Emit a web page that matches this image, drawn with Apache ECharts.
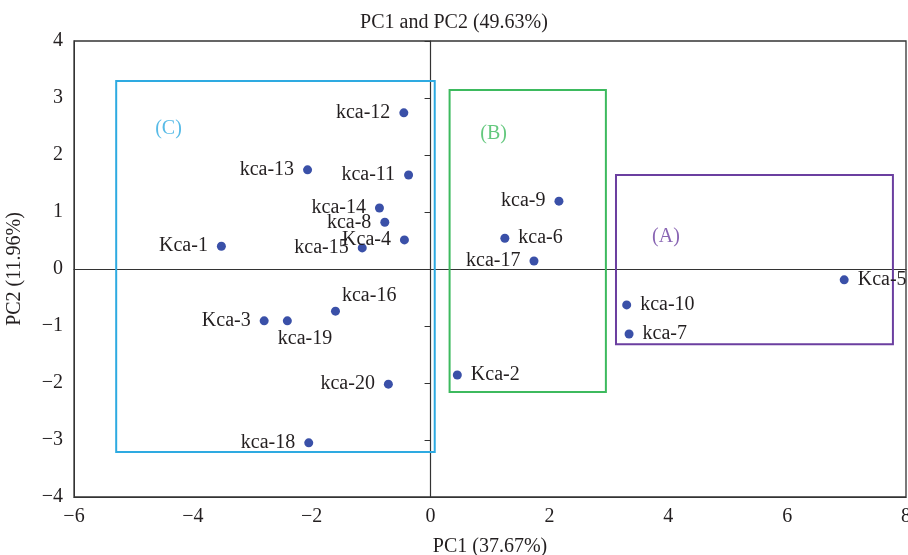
<!DOCTYPE html>
<html><head><meta charset="utf-8">
<script src="https://cdn.jsdelivr.net/npm/echarts@6/dist/echarts.min.js"></script>
<style>html,body{margin:0;padding:0;background:#fff}#c{width:908px;height:555px}</style>
</head><body><div id="c"></div>
<script>
const names = ['kca-12','kca-13','kca-11','kca-14','kca-8','Kca-4','kca-15','Kca-1','kca-16','Kca-3','kca-19','kca-20','kca-18','kca-9','kca-6','kca-17','Kca-2','Kca-5','kca-10','kca-7'];
const pc1 = [-0.45,-2.07,-0.37,-0.86,-0.77,-0.44,-1.15,-3.52,-1.60,-2.80,-2.41,-0.71,-2.05,2.16,1.25,1.74,0.45,6.96,3.30,3.34];
const pc2 = [2.74,1.74,1.65,1.07,0.82,0.51,0.37,0.40,-0.74,-0.91,-0.91,-2.02,-3.05,1.19,0.54,0.14,-1.86,-0.19,-0.63,-1.14];
const labelSide = ['left','left','left','left','left','left','left','left','topRight','left','bottomRight','left','left','left','right','left','right','right','right','right'];
const groupNames = ['(C)','(B)','(A)'];
const groupX1 = [-5.29,0.32,3.12];
const groupX2 = [0.07,2.95,7.78];
const groupY1 = [3.30,3.14,1.65];
const groupY2 = [-3.21,-2.16,-1.32];
const groupLabelX = [-4.41,1.06,3.96];
const groupLabelY = [2.46,2.37,0.56];
const groupColors = ['#2eaae1','#3dba5e','#6b3fa0'];
const xTicks = [-6,-4,-2,0,2,4,6,8];
const yTicks = [-4,-3,-2,-1,0,1,2,3,4];

const font = 'Liberation Serif';
const fs = 20;
const txt = '#231f20';
function posOf(s){
  if (s==='left') return {position:'left', distance:9};
  if (s==='right') return {position:'right', distance:9};
  if (s==='topRight') return {position:'right', distance:2, offset:[0,-15]};
  if (s==='bottomRight') return {position:'right', distance:0, offset:[-14,18]};
}
const pts = names.map((n,i)=>({
  value:[pc1[i],pc2[i]], name:n,
  label:Object.assign({show:true, formatter:n, fontFamily:font, fontSize:fs, color:txt}, posOf(labelSide[i]))
}));
const chart = echarts.init(document.getElementById('c'));
chart.setOption({
  animation:false,
  title:{text:'PC1 and PC2 (49.63%)', left:'center', top:8, textStyle:{fontFamily:font, fontSize:fs, fontWeight:'normal', color:txt}},
  grid:{left:74, right:2, top:41, bottom:58, show:true, borderColor:'#333', borderWidth:1.3, containLabel:false, outerBoundsMode:'none'},
  xAxis:[
    {type:'value', min:xTicks[0], max:xTicks[xTicks.length-1], interval:2, position:'bottom',
     name:'PC1 (37.67%)', nameLocation:'middle', nameGap:40,
     nameTextStyle:{fontFamily:font, fontSize:fs, color:txt},
     axisLine:{onZero:false, lineStyle:{color:'#333'}}, axisTick:{show:false}, splitLine:{show:false},
     axisLabel:{fontFamily:font, fontSize:fs, color:txt, margin:10, formatter:v=>v<0?'\u2212'+(-v):String(v)}},
    {type:'value', min:xTicks[0], max:xTicks[xTicks.length-1], interval:2, position:'bottom',
     axisLine:{onZero:true, lineStyle:{color:'#333', width:1.2}}, axisTick:{show:false}, axisLabel:{show:false}, splitLine:{show:false}}
  ],
  yAxis:[
    {type:'value', min:yTicks[0], max:yTicks[yTicks.length-1], interval:1, position:'left',
     name:'PC2 (11.96%)', nameLocation:'middle', nameGap:49, nameRotate:90,
     nameTextStyle:{fontFamily:font, fontSize:fs, color:txt},
     axisLine:{onZero:false, lineStyle:{color:'#333'}}, axisTick:{show:false}, splitLine:{show:false},
     axisLabel:{fontFamily:font, fontSize:fs, color:txt, margin:11, formatter:v=>v<0?'\u2212'+(-v):String(v)}},
    {type:'value', min:yTicks[0], max:yTicks[yTicks.length-1], interval:1, position:'left',
     axisLine:{onZero:true, lineStyle:{color:'#333', width:1.2}}, axisTick:{show:true, length:6, lineStyle:{color:'#333'}},
     axisLabel:{show:false}, splitLine:{show:false}}
  ],
  series:[
    {type:'scatter', xAxisIndex:0, yAxisIndex:0, symbolSize:9, itemStyle:{color:'#3a50a8', opacity:1},
     data:pts, z:5,
     markArea:{silent:true,
       data: groupNames.map((g,i)=>[
         {coord:[groupX1[i],groupY1[i]], itemStyle:{color:'rgba(0,0,0,0)', borderColor:groupColors[i], borderWidth:2}},
         {coord:[groupX2[i],groupY2[i]]}
       ])}
    },
    {type:'scatter', xAxisIndex:0, yAxisIndex:0, symbolSize:0, silent:true,
     data: groupNames.map((g,i)=>({value:[groupLabelX[i],groupLabelY[i]],
       label:{show:true, position:'inside', formatter:g, fontFamily:font, fontSize:fs, color:groupColors[i]}}))}
  ]
});
</script></body></html>
